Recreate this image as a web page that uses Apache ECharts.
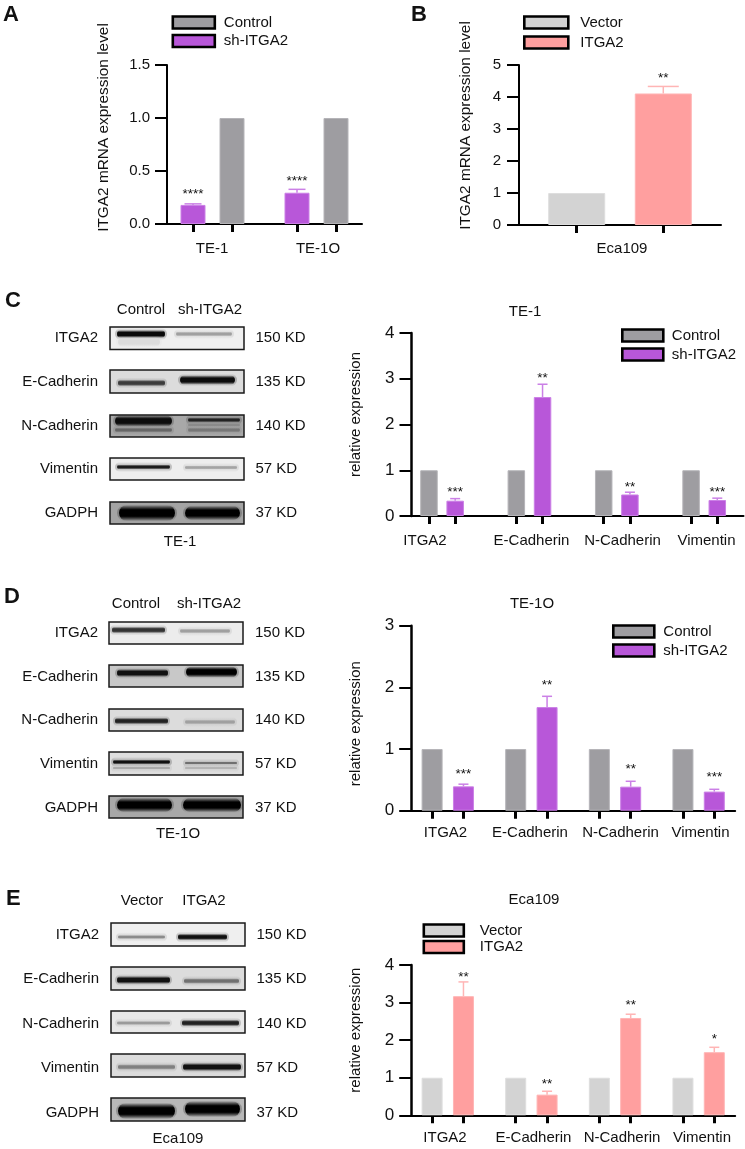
<!DOCTYPE html>
<html><head><meta charset="utf-8">
<style>html,body{margin:0;padding:0;background:#fff}#c{width:745px;height:1149px}</style>
<script src="https://cdn.jsdelivr.net/npm/echarts@6/dist/echarts.min.js"></script>
</head><body><div id="c"></div>
<script>
const FONT='"Liberation Sans",Arial,sans-serif';
const GRAY='#9e9da1',PURPLE='#b857d9',LGRAY='#d3d3d3',PINK='#ff9f9f';

// ---- data ----
const catsA=['TE-1','TE-1O'];
const shA=[0.18,0.295], shAErr=[0.19,0.327], ctrlA=[1,1], starsA=['****','****'], starAtA=[0.311,0.431];
const catsB=['Eca109'];
const vecB=[1], itgaB=[4.11], itgaBErr=[4.33], starsB=['**'], starAtB=[4.68];
const proteins=['ITGA2','E-Cadherin','N-Cadherin','Vimentin'];
const ctrlC=[1,1,1,1], shC=[0.335,2.6,0.47,0.35], shCErr=[0.38,2.88,0.52,0.39], starsC=['***','**','**','***'], starAtC=[0.59,3.08,0.70,0.59];
const ctrlD=[1,1,1,1], shD=[0.395,1.68,0.39,0.31], shDErr=[0.43,1.855,0.477,0.347], starsD=['***','**','**','***'], starAtD=[0.644,2.08,0.725,0.595];
const vecE=[1,1,1,1], itgaE=[3.17,0.55,2.59,1.68], itgaEErr=[3.55,0.64,2.69,1.81], starsE=['**','**','**','*'], starAtE=[3.75,0.91,3.01,2.11];
const ticksA=[0,1.5,0.5], ticksB=[0,5,1], ticksC=[0,4,1], ticksD=[0,3,1], ticksE=[0,4,1];

// ---- layout of each bar panel (not data) ----
const charts=[
 {left:167,top:65,w:195,h:159,slots:16,first:[2,10],second:[5,13],barW:25,capW:17,cats:catsA,labelX:[212,318],margin:17,
  y:ticksA,fmt:1,tick:15,tm:17,ax:2,yName:'ITGA2 mRNA expression level',nameGap:56,namePad:34,nameSize:15.4,
  s1:{name:'sh-ITGA2',color:PURPLE,edge:'#cb80e6',data:shA,err:shAErr,stars:starsA,starAt:starAtA},
  s2:{name:'Control',color:GRAY,edge:'#b5b4b8',data:ctrlA},
  legend:{names:['Control','sh-ITGA2'],left:171.5,top:15,w:42,pitch:18.5,pad:4}},
 {left:519,top:65,w:202,h:160,slots:8,first:[2],second:[5],barW:57,capW:31,cats:catsB,labelX:[622],margin:16,
  y:ticksB,fmt:0,tick:15,tm:18,ax:2,yName:'ITGA2 mRNA expression level',nameGap:46,namePad:39,nameSize:15.4,
  s1:{name:'Vector',color:LGRAY,edge:'#dedede',data:vecB},
  s2:{name:'ITGA2',color:PINK,edge:'#ffb5b5',data:itgaB,err:itgaBErr,stars:starsB,starAt:starAtB},
  legend:{names:['Vector','ITGA2'],left:523,top:15,w:44,pitch:20,pad:7}},
 {left:411.5,top:333,w:332,h:183,slots:39,first:[2,12,22,32],second:[5,15,25,35],barW:17.5,capW:10,cats:proteins,labelX:[425,531.5,622.5,706.5],margin:17,
  y:ticksC,fmt:0,tick:17,tm:17,ax:2.5,yName:'relative expression',nameGap:48,namePad:20,nameSize:15,
  s1:{name:'Control',color:GRAY,edge:'#b5b4b8',data:ctrlC},
  s2:{name:'sh-ITGA2',color:PURPLE,edge:'#cb80e6',data:shC,err:shCErr,stars:starsC,starAt:starAtC},
  legend:{names:['Control','sh-ITGA2'],left:621,top:328,w:41,pitch:19,pad:3.5},
  title:'TE-1',titleX:525,titleY:312},
 {left:411.2,top:625.7,w:324,h:185,slots:32,first:[2,10,18,26],second:[5,13,21,29],barW:21,capW:10,cats:proteins,labelX:[445.5,530,620.5,700.5],margin:15,
  y:ticksD,fmt:0,tick:17,tm:17,ax:2.5,yName:'relative expression',nameGap:48,namePad:-11,nameSize:15,
  s1:{name:'Control',color:GRAY,edge:'#b5b4b8',data:ctrlD},
  s2:{name:'sh-ITGA2',color:PURPLE,edge:'#cb80e6',data:shD,err:shDErr,stars:starsD,starAt:starAtD},
  legend:{names:['Control','sh-ITGA2'],left:612,top:624,w:41,pitch:19,pad:4},
  title:'TE-1O',titleX:532,titleY:604},
 {left:411.2,top:965,w:324,h:150.3,slots:32,first:[2,10,18,26],second:[5,13,21,29],barW:21,capW:10,cats:proteins,labelX:[445,533.5,622,702],margin:15,
  y:ticksE,fmt:0,tick:17,tm:17,ax:2.5,yName:'relative expression',nameGap:48,namePad:20,nameSize:15,
  s1:{name:'Vector',color:LGRAY,edge:'#dedede',data:vecE},
  s2:{name:'ITGA2',color:PINK,edge:'#ffb5b5',data:itgaE,err:itgaEErr,stars:starsE,starAt:starAtE},
  legend:{names:['Vector','ITGA2'],left:422.5,top:923,w:40,pitch:16.5,pad:11},
  title:'Eca109',titleX:534,titleY:900}
];

// ---- western-blot panels ----
const blotRows=['ITGA2','E-Cadherin','N-Cadherin','Vimentin','GADPH'];
const blotWeights=['150 KD','135 KD','140 KD','57 KD','37 KD'];
// box:[x0,x1], rows:[y0,y1,bg,textY,bands:[x0,x1,yc,h,color]]
const blots=[
 {x:[110,244],labelR:98,mwL:255.5,heads:[['Control',141],['sh-ITGA2',210]],headY:309,foot:['TE-1',180,541],rows:[
  [327,349.5,'#efefef',337,[[117,165,334,5,'#0a0a0a'],[118,160,342,6,'#dcdcdc'],[176,232,334,3,'#a0a0a0']]],
  [370,393,'#dcdcdc',381,[[118,165,383,4,'#3c3c3c'],[180,235,380,6,'#0c0c0c']]],
  [415,437,'#a8a8a8',425,[[115,172,421,7,'#0c0c0c'],[115,172,430,3,'#666'],[188,240,420,3,'#222'],[188,240,430,3,'#777'],[188,240,425,2,'#8a8a8a']]],
  [458,480,'#eeeeee',468,[[117,170,467,3,'#1c1c1c'],[185,237,467.5,2.5,'#a4a4a4']]],
  [502,524,'#a4a4a4',512,[[119,175,513,10,'#000'],[185,240,513,9,'#000']]]]},
 {x:[109,243],labelR:98,mwL:255,heads:[['Control',136],['sh-ITGA2',209]],headY:603,foot:['TE-1O',178,833],rows:[
  [622,644,'#ececec',632,[[112,165,630,4,'#333'],[180,230,631,3,'#a0a0a0']]],
  [665,687,'#c8c8c8',676,[[117,168,673,5,'#111'],[186,237,672,7,'#000']]],
  [709,731,'#dcdcdc',719,[[115,168,721,4,'#222'],[185,235,722,3,'#a0a0a0']]],
  [752,775,'#dedede',763,[[113,170,762,3,'#111'],[113,170,768,2,'#aaa'],[185,237,763,2,'#707070'],[185,237,768,2,'#b4b4b4']]],
  [796,818,'#a8a8a8',807,[[117,172,805,9,'#000'],[183,241,805,9,'#000']]]]},
 {x:[111,245],labelR:99,mwL:256.5,heads:[['Vector',142],['ITGA2',204]],headY:900,foot:['Eca109',178,1138],rows:[
  [923,946,'#efefef',934,[[118,165,937,2.5,'#8c8c8c'],[178,227,937,4,'#111']]],
  [967,990,'#dcdcdc',978,[[117,170,980,5,'#111'],[184,239,981,3.5,'#707070']]],
  [1011,1033,'#e8e8e8',1023,[[117,170,1023,2.5,'#9a9a9a'],[182,239,1023,4,'#222']]],
  [1054,1077,'#dcdcdc',1067,[[118,175,1067,3.5,'#808080'],[183,241,1067,5,'#111']]],
  [1098,1121,'#b8b8b8',1112,[[118,175,1111,10,'#000'],[185,240,1109,10,'#000']]]]}
];
const panelLetters=[['A',3,15],['B',411,15],['C',5,301],['D',4,597],['E',6,899]];

// ---- build option ----
const option={animation:false,backgroundColor:'#fff',textStyle:{fontFamily:FONT},
  title:[],grid:[],xAxis:[],yAxis:[],legend:[],series:[],graphic:{elements:[]}};
const txt=(t,x,y,size,align,weight)=>({type:'text',x:x,y:y,silent:true,z:5,
  style:{text:t,font:(weight||'normal')+' '+size+'px '+FONT,fill:'#111',textAlign:align,textVerticalAlign:'middle'}});

charts.forEach((c,gi)=>{
  option.grid.push({left:c.left,top:c.top,width:c.w,height:c.h,containLabel:false});
  const slotCats=Array.from({length:c.slots},(_,i)=>String(i));
  const barSlots=c.first.concat(c.second);
  const slotAxisIdx=option.xAxis.length;
  option.xAxis.push({type:'category',gridIndex:gi,data:slotCats,boundaryGap:false,position:'bottom',
    axisLine:{show:true,onZero:false,lineStyle:{color:'#000',width:2}},
    axisTick:{show:true,length:8,interval:(i)=>barSlots.includes(i),lineStyle:{color:'#000',width:3}},
    axisLabel:{show:false},splitLine:{show:false}});
  const n=c.cats.length,cw=c.w/n;
  option.xAxis.push({type:'category',gridIndex:gi,position:'bottom',boundaryGap:true,
    data:c.cats.map((t,i)=>{
      const d=c.labelX[i]-(c.left+(i+.5)*cw);
      return {value:t,textStyle:{padding:d>=0?[0,0,0,2*d]:[0,-2*d,0,0]}};
    }),
    axisLine:{show:false},axisTick:{show:false},splitLine:{show:false},
    axisLabel:{show:true,interval:0,margin:c.margin,fontSize:15,color:'#111',fontFamily:FONT,hideOverlap:false}});
  option.yAxis.push({type:'value',gridIndex:gi,min:c.y[0],max:c.y[1],interval:c.y[2],
    axisLine:{show:true,onZero:false,lineStyle:{color:'#000',width:c.ax}},
    axisTick:{show:true,length:12,lineStyle:{color:'#000',width:2}},
    axisLabel:{margin:c.tm,fontSize:c.tick,color:'#111',fontFamily:FONT,formatter:v=>v.toFixed(c.fmt)},
    splitLine:{show:false},
    name:c.yName,nameLocation:'middle',nameGap:c.nameGap,
    nameTextStyle:{fontSize:c.nameSize,color:'#111',fontFamily:FONT,
      padding:c.namePad>=0?[0,0,0,c.namePad]:[0,-c.namePad,0,0]}});
  [[c.s1,c.first],[c.s2,c.second]].forEach(([s,pos])=>{
    const arr=slotCats.map(()=>null);
    pos.forEach((p,i)=>arr[p]=s.data[i]);
    option.series.push({type:'bar',name:s.name,xAxisIndex:slotAxisIdx,yAxisIndex:gi,data:arr,
      barWidth:c.barW,barGap:'-100%',itemStyle:{color:s.color,borderColor:s.edge,borderWidth:1},silent:true});
    if(s.err){
      option.series.push({type:'custom',name:'err'+gi,xAxisIndex:slotAxisIdx,yAxisIndex:gi,silent:true,clip:false,
        data:pos.map((p,i)=>[p,s.data[i],s.err[i],s.starAt[i]]),
        renderItem:(params,api)=>{
          const x=api.value(0);
          const b=api.coord([x,api.value(1)]),t=api.coord([x,api.value(2)]),st=api.coord([x,api.value(3)]);
          const lw={stroke:s.edge,lineWidth:1.5,fill:null};
          return {type:'group',children:[
            {type:'line',shape:{x1:b[0],y1:b[1],x2:t[0],y2:t[1]},style:lw},
            {type:'line',shape:{x1:t[0]-c.capW/2,y1:t[1],x2:t[0]+c.capW/2,y2:t[1]},style:lw},
            {type:'text',x:st[0],y:st[1]+3,style:{text:s.stars[params.dataIndex],font:'13.5px '+FONT,fill:'#111',textAlign:'center',textVerticalAlign:'middle'}}
          ]};
        }});
    }
  });
  const L=c.legend;
  L.names.forEach((nm,i)=>option.legend.push({data:[nm],show:true,left:L.left,top:L.top+i*L.pitch,orient:'vertical',padding:0,
    itemWidth:L.w,itemHeight:12,icon:'rect',selectedMode:false,
    itemStyle:{borderColor:'#000',borderWidth:2.6},
    textStyle:{fontSize:15,color:'#111',fontFamily:FONT,lineHeight:14,padding:[0,0,0,L.pad]}}));
  if(c.title) option.title.push({text:c.title,left:c.titleX,top:c.titleY-8,textAlign:'center',padding:0,
    textStyle:{fontSize:15,fontWeight:'normal',color:'#111',fontFamily:FONT}});
});

const hex2rgba=(col,a)=>{
  let h=col.slice(1); if(h.length===3) h=h.split('').map(v=>v+v).join('');
  const v=parseInt(h,16);
  return 'rgba('+(v>>16&255)+','+(v>>8&255)+','+(v&255)+','+a+')';
};
const el=option.graphic.elements;
blots.forEach(b=>{
  b.rows.forEach((r,ri)=>{
    const [y0,y1,bg,ty,bands]=r;
    el.push({type:'rect',silent:true,z:1,shape:{x:b.x[0],y:y0,width:b.x[1]-b.x[0],height:y1-y0},style:{fill:bg}});
    bands.forEach(([x0,x1,yc,h,col])=>{
      // feathered band: wide pale layer, then the core, both fading at top and bottom
      const layer=(extra,th,alpha)=>el.push({type:'rect',silent:true,z:2,
        shape:{x:x0-extra,y:yc-th/2,width:x1-x0+2*extra,height:th,r:th/2},
        style:{fill:{type:'linear',x:0,y:0,x2:0,y2:1,colorStops:[
          {offset:0,color:hex2rgba(col,0)},{offset:0.3,color:hex2rgba(col,alpha)},
          {offset:0.7,color:hex2rgba(col,alpha)},{offset:1,color:hex2rgba(col,0)}]}}});
      layer(2,h+7,0.22);
      layer(0,h*1.6,1);
    });
    el.push({type:'rect',silent:true,z:3,shape:{x:b.x[0],y:y0,width:b.x[1]-b.x[0],height:y1-y0},style:{fill:null,stroke:'#1a1a1a',lineWidth:1.5}});
    el.push(txt(blotRows[ri],b.labelR,ty+1,15,'right'));
    el.push(txt(blotWeights[ri],b.mwL,ty+1,15,'left'));
  });
  b.heads.forEach(([t,x])=>el.push(txt(t,x,b.headY+1,15,'center')));
  el.push(txt(b.foot[0],b.foot[1],b.foot[2]+1,15,'center'));
});
panelLetters.forEach(([t,x,y])=>el.push(txt(t,x,y,22,'left','bold')));

const chart=echarts.init(document.getElementById('c'),null,{renderer:'canvas'});
chart.setOption(option);
</script></body></html>
